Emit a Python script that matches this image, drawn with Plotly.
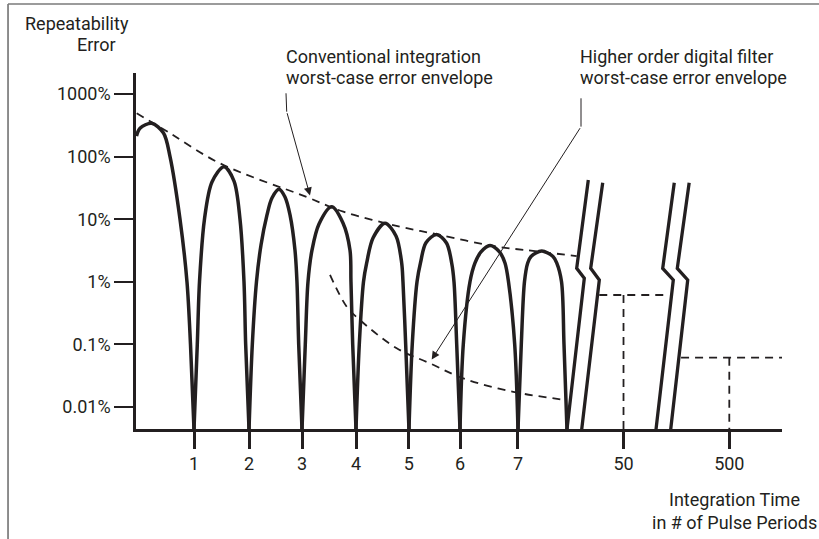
import plotly.graph_objects as go

INK = "#231f20"
FLOOR = 0.0044  # value where a lobe meets the x axis

# x positions of the labelled periods (axis units) and their labels
tick_pos = [1, 2.02, 3.0, 4.0, 4.98, 5.926, 7.0, 8.954, 10.913]
tick_text = ["1", "2", "3", "4", "5", "6", "7", "50", "500"]
err_ticks = [0.01, 0.1, 1, 10, 100, 1000]
err_text = ["0.01%", "0.1%", "1%", "10%", "100%", "1000%"]

# repeatability error lobes (x in axis units, y in %)
lobe1_x = [-0.065, 0.0, 0.217, 0.435, 0.556, 0.741, 0.870, 0.935, 1.0]
lobe1_y = [213, 283, 340, 238, 100, 10, 1, 0.1, FLOOR]
lobe2_x = [1.0, 1.061, 1.102, 1.194, 1.333, 1.556, 1.741, 1.852, 1.926, 1.957, 2.019]
lobe2_y = [FLOOR, 0.1, 1, 10, 39.3, 69, 40.7, 10, 1, 0.1, FLOOR]
lobe3_x = [2.019, 2.080, 2.157, 2.241, 2.352, 2.444, 2.574, 2.685, 2.778, 2.870, 2.907, 2.939, 3.0]
lobe3_y = [FLOOR, 0.1, 1, 3.87, 11.7, 21.8, 30, 22.6, 11.7, 3.2, 1, 0.1, FLOOR]
lobe4_x = [3.0, 3.061, 3.111, 3.185, 3.315, 3.550, 3.759, 3.889, 3.907, 3.939, 4.0]
lobe4_y = [FLOOR, 0.1, 1, 3.2, 8.4, 15.8, 8.7, 3.2, 1, 0.1, FLOOR]
lobe5_x = [4.0, 4.061, 4.139, 4.198, 4.315, 4.537, 4.741, 4.846, 4.870, 4.920, 4.981]
lobe5_y = [FLOOR, 0.1, 1, 2.0, 5.0, 8.6, 5.4, 2.0, 1, 0.1, FLOOR]
lobe6_x = [4.981, 5.042, 5.130, 5.194, 5.296, 5.494, 5.676, 5.772, 5.815, 5.865, 5.926]
lobe6_y = [FLOOR, 0.1, 1, 2.0, 4.2, 5.7, 4.17, 2.0, 1, 0.1, FLOOR]
lobe7_x = [5.926, 5.987, 6.111, 6.204, 6.315, 6.481, 6.657, 6.759, 6.824, 6.939, 7.0]
lobe7_y = [FLOOR, 0.1, 1, 2.0, 3.0, 3.8, 3.0, 2.0, 1, 0.1, FLOOR]
lobe8_x = [7.0, 7.061, 7.120, 7.180, 7.241, 7.439, 7.648, 7.717, 7.806, 7.852, 7.907]
lobe8_y = [FLOOR, 0.1, 1, 2.0, 2.54, 3.1, 2.54, 2.0, 1, 0.1, FLOOR]

# worst-case envelopes
conv_x = [-0.061, 0.556, 1.481, 3.087, 3.765, 4.815, 5.556, 6.606, 7.13, 8.087]
conv_y = [492, 236, 78, 22.6, 13.2, 7.6, 5.6, 3.64, 3.22, 2.58]
hof_x = [3.519, 3.828, 4.074, 4.754, 5.37, 5.987, 6.913, 7.902]
hof_y = [1.29, 0.40, 0.245, 0.0867, 0.0499, 0.0287, 0.0175, 0.0129]

# error level reached at 50 and 500 periods
step50_x = [8.505, 9.783]
step50_y = 0.615
step500_x = [10.02, 11.95]
step500_y = 0.0614

# axis-break zigzags
breaks_x = [
    [8.302, 8.087, 8.228, 7.907],
    [8.569, 8.346, 8.506, 8.18],
    [9.894, 9.68, 9.876, 9.556],
    [10.17, 9.95, 10.143, 9.828],
]
breaks_y = [
    [42.3, 1.64, 1.14, FLOOR],
    [38.3, 1.64, 1.07, FLOOR],
    [38.3, 1.64, 1.07, FLOOR],
    [38.3, 1.64, 1.07, FLOOR],
]

fig = go.Figure()

lx, ly = [], []
for xs, ys in [(lobe1_x, lobe1_y), (lobe2_x, lobe2_y), (lobe3_x, lobe3_y), (lobe4_x, lobe4_y),
               (lobe5_x, lobe5_y), (lobe6_x, lobe6_y), (lobe7_x, lobe7_y), (lobe8_x, lobe8_y)]:
    lx += xs + [None]
    ly += ys + [None]
fig.add_trace(go.Scatter(x=lx, y=ly, mode="lines", connectgaps=False,
                         line=dict(color=INK, width=3.5, shape="spline", smoothing=0.9)))

dash = dict(color=INK, width=1.8, dash="8px,6px")
fig.add_trace(go.Scatter(x=conv_x, y=conv_y, mode="lines", line=dict(shape="spline", **dash)))
fig.add_trace(go.Scatter(x=hof_x, y=hof_y, mode="lines", line=dict(shape="spline", **dash)))

fig.add_trace(go.Scatter(x=step50_x + [None, tick_pos[7], tick_pos[7]],
                         y=[step50_y, step50_y, None, step50_y, FLOOR],
                         mode="lines", line=dash))
fig.add_trace(go.Scatter(x=step500_x + [None, tick_pos[8], tick_pos[8]],
                         y=[step500_y, step500_y, None, step500_y, FLOOR],
                         mode="lines", line=dash))

for bx, by in zip(breaks_x, breaks_y):
    fig.add_trace(go.Scatter(x=bx, y=by, mode="lines", line=dict(color=INK, width=3.3)))

# leader lines for the two envelope callouts
fig.add_trace(go.Scatter(x=[2.704, 2.717], y=[1026, 521], mode="lines", line=dict(color=INK, width=1)))
fig.add_trace(go.Scatter(x=[8.167, 8.167], y=[853, 301], mode="lines", line=dict(color=INK, width=1)))

font = dict(family="Roboto", size=18, color=INK)

annotations = [
    dict(x=3.148, y=1.379, ax=2.717, ay=2.717, axref="x", ayref="y", xref="x", yref="y",
         showarrow=True, arrowhead=2, arrowsize=1.6, arrowwidth=1, arrowcolor=INK, text=""),
    dict(x=5.402, y=-1.241, ax=8.167, ay=2.478, axref="x", ayref="y", xref="x", yref="y",
         showarrow=True, arrowhead=2, arrowsize=1.6, arrowwidth=1, arrowcolor=INK, text=""),
]

texts = [
    ("Repeatability", -0.1749, 1.1404, "left"),
    ("Error", -0.0279, 1.0787, "right"),
    ("Conventional integration", 0.2291, 1.0463, "left"),
    ("worst-case error envelope", 0.2291, 0.986, "left"),
    ("Higher order digital filter", 0.6847, 1.0463, "left"),
    ("worst-case error envelope", 0.6847, 0.986, "left"),
    ("Integration Time", 0.9272, -0.1994, "center"),
    ("in # of Pulse Periods", 0.9272, -0.264, "center"),
]
for t, x, y, anchor in texts:
    annotations.append(dict(text=t, x=x, y=y, xref="paper", yref="paper", xanchor=anchor,
                            yanchor="middle", showarrow=False, font=font))

frame = dict(color="#7a7a7a", width=1.7)
shapes = [
    dict(type="line", xref="paper", yref="paper", x0=-0.1981, x1=1.06, y0=1.1938, y1=1.1938, line=frame),
    dict(type="line", xref="paper", yref="paper", x0=-0.1981, x1=-0.1981, y0=1.1938, y1=-0.32, line=frame),
]

fig.update_layout(
    width=819, height=539,
    margin=dict(l=136, r=37, t=73, b=110),
    paper_bgcolor="white", plot_bgcolor="white",
    showlegend=False,
    font=font,
    annotations=annotations,
    shapes=shapes,
    xaxis=dict(range=[-0.074, 11.889], showgrid=False, zeroline=False,
               showline=True, linecolor=INK, linewidth=2.5,
               tickmode="array", tickvals=tick_pos, ticktext=tick_text,
               ticks="outside", ticklen=17, tickwidth=2.5, tickcolor=INK,
               tickfont=font, ticklabelstandoff=0),
    yaxis=dict(type="log", range=[-2.351, 3.335], showgrid=False, zeroline=False,
               showline=True, linecolor=INK, linewidth=2.5,
               tickmode="array", tickvals=err_ticks, ticktext=err_text,
               ticks="outside", ticklen=19, tickwidth=2, tickcolor=INK,
               tickfont=font, ticklabelstandoff=0),
)

# the page's default body margin would push the figure 8px off the window
fig.write_html("out.html", config={"displayModeBar": False},
               post_script="document.body.style.margin='0';")
